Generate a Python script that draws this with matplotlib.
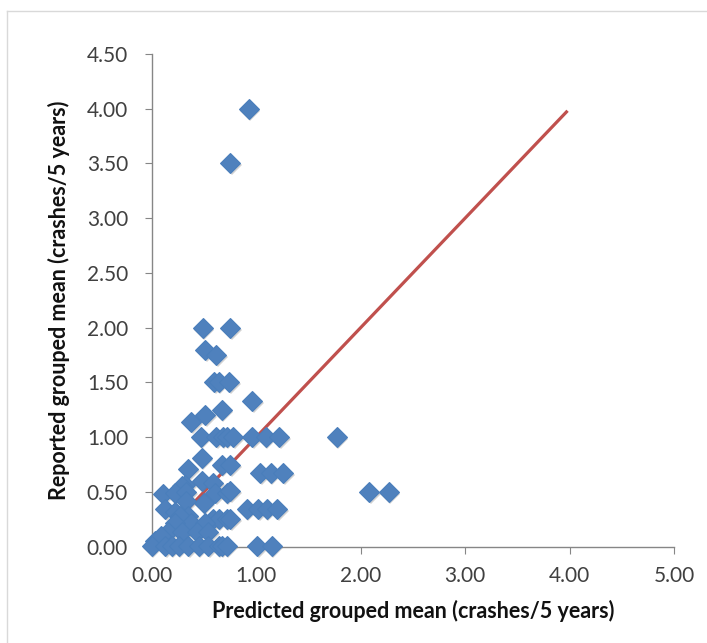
import matplotlib
matplotlib.use("Agg")
import matplotlib.pyplot as plt
from matplotlib.lines import Line2D
import matplotlib.transforms as mtrans

predicted = [0.93, 0.75, 0.49, 0.75, 0.51, 0.62, 0.60, 0.64, 0.74, 0.96, 0.67, 0.51, 0.38,
             0.47, 0.62, 0.68, 0.72, 0.78, 0.96, 1.09, 1.22, 1.77,
             0.48, 0.67, 0.75, 0.35, 1.04, 1.14, 1.26,
             0.32, 0.48, 0.59, 0.29,
             0.11, 0.22, 0.33, 0.61, 0.72, 0.75, 2.08, 2.27,
             0.50, 0.33, 0.13, 0.22, 0.35, 0.27,
             0.91, 1.02, 1.10, 1.20,
             0.59, 0.64, 0.72, 0.75,
             0.24, 0.38, 0.51, 0.22,
             0.16, 0.29, 0.43, 0.54,
             0.03, 0.09,
             0.00, 0.13, 0.19, 0.26, 0.35, 0.45, 0.54, 0.64, 0.67, 0.72, 1.01, 1.15]
reported = [4.00, 3.50, 2.00, 2.00, 1.80, 1.75, 1.50, 1.50, 1.50, 1.33, 1.25, 1.20, 1.14,
            1.00, 1.00, 1.00, 1.00, 1.00, 1.00, 1.00, 1.00, 1.00,
            0.81, 0.75, 0.75, 0.71, 0.67, 0.67, 0.67,
            0.56, 0.60, 0.58, 0.55,
            0.48, 0.49, 0.50, 0.49, 0.49, 0.51, 0.50, 0.50,
            0.40, 0.42, 0.34, 0.32, 0.28, 0.28,
            0.34, 0.34, 0.34, 0.34,
            0.25, 0.25, 0.25, 0.25,
            0.19, 0.22, 0.22, 0.22,
            0.13, 0.13, 0.13, 0.13,
            0.05, 0.10,
            0.01, 0.01, 0.01, 0.01, 0.01, 0.01, 0.01, 0.01, 0.01, 0.01, 0.01, 0.01]
line_x = [0.0, 3.97]
line_y = [0.0, 3.97]
x_ticks = [0, 1, 2, 3, 4, 5]
y_ticks = [0, 0.5, 1, 1.5, 2, 2.5, 3, 3.5, 4, 4.5]

plt.rcParams['font.family'] = ['Lato', 'DejaVu Sans']

fig = plt.figure(figsize=(7.07, 6.43), dpi=100)
ax = fig.add_axes([0.2146, 0.1498, 0.7388, 0.7664])

# light frame lines (top and left)
fig.add_artist(Line2D([7/707, 1.0], [1 - 11/643, 1 - 11/643], color='#d9d9d9', lw=1))
fig.add_artist(Line2D([7/707, 7/707], [0.0, 1 - 11/643], color='#d9d9d9', lw=1))

ax.plot(line_x, line_y, color='#C0504D', lw=2.3, zorder=2, clip_on=False)

# shadow
shadow = mtrans.offset_copy(ax.transData, fig=fig, x=1.5, y=-2, units='dots')
ax.plot(predicted, reported, 'D', ms=10, color='#7f7f7f', alpha=0.35, mew=0,
        transform=shadow, zorder=2.5, clip_on=False)
ax.plot(predicted, reported, 'D', ms=10, color='#4F81BD', mec='#4A7EBB', mew=0.8,
        zorder=3, clip_on=False, linestyle='none')

ax.set_xlim(0, 5)
ax.set_ylim(0, 4.5)
ax.set_xticks(x_ticks)
ax.set_yticks(y_ticks)
ax.set_xticklabels([f"{v:.2f}" for v in x_ticks])
ax.set_yticklabels([f"{v:.2f}" for v in y_ticks])
for s in ['top', 'right']:
    ax.spines[s].set_visible(False)
for s in ['left', 'bottom']:
    ax.spines[s].set_color('#868686')
    ax.spines[s].set_linewidth(1)
ax.tick_params(axis='both', direction='out', length=5, color='#868686',
               labelsize=15, labelcolor='#404040')
ax.tick_params(axis='y', pad=12)
ax.tick_params(axis='x', pad=9)
ax.set_xlabel('Predicted grouped mean (crashes/5 years)', fontsize=15.5,
              fontweight='bold', color='#111111', labelpad=10)
ax.set_ylabel('Reported grouped mean (crashes/5 years)', fontsize=15.5,
              fontweight='bold', color='#111111', labelpad=12)

fig.savefig('out.png', dpi=100, facecolor='white')
